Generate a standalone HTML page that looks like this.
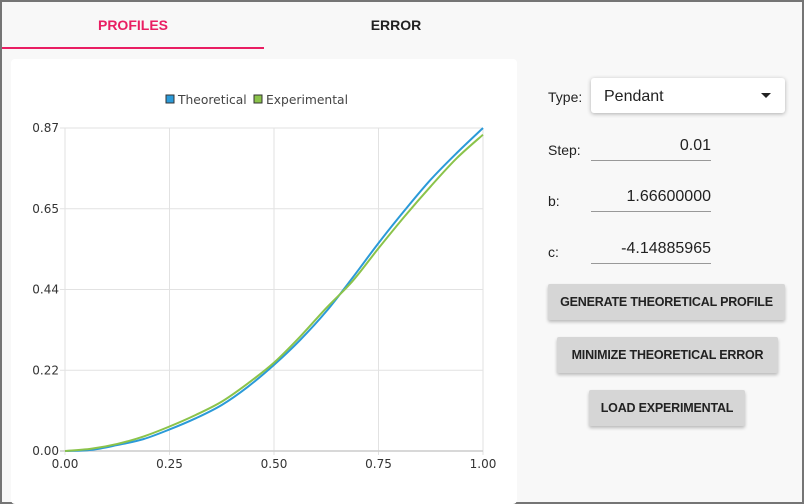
<!DOCTYPE html>
<html><head><meta charset="utf-8"><style>
*{box-sizing:border-box;margin:0;padding:0}
body{width:804px;height:504px;overflow:hidden;font-family:"Liberation Sans",sans-serif;background:#fff}
#frame{position:absolute;left:0;top:0;width:804px;height:504px;border:2px solid #757575;background:#f8f8f8}
.tab{position:absolute;top:2px;height:46px;line-height:46px;text-align:center;font-size:14px;font-weight:bold}
.lbl{position:absolute;font-size:14px;color:#222}
.inp{position:absolute;left:591px;width:120px;border-bottom:1px solid #999;text-align:right;font-size:16px;color:#222;height:26px;line-height:22px}
.btn{position:absolute;background:#d6d6d6;border-radius:2px;box-shadow:0 2px 3px rgba(0,0,0,.25);font-size:12.5px;font-weight:bold;color:#222;text-align:center;line-height:36px;height:36px;letter-spacing:-0.2px}
</style></head><body>
<div id="frame"></div>
<div class="tab" style="left:2px;width:262px;color:#e91e63">PROFILES</div>
<div style="position:absolute;left:2px;top:47px;width:262px;height:2px;background:#e91e63"></div>
<div class="tab" style="left:264px;width:264px;color:#222">ERROR</div>
<div style="position:absolute;left:11px;top:59px;width:506px;height:445px;background:#fff;border-radius:4px"></div>
<svg id="chart" width="804" height="504" style="position:absolute;left:0;top:0"></svg>

<div class="lbl" style="left:548px;top:89px">Type:</div>
<div style="position:absolute;left:591px;top:78px;width:194px;height:35px;background:#fff;border-radius:3px;box-shadow:0 1px 4px rgba(0,0,0,.3);font-size:16px;line-height:37px;padding-left:13px;color:#222">Pendant<span style="position:absolute;right:14px;top:15px;border-left:5px solid transparent;border-right:5px solid transparent;border-top:5px solid #222"></span></div>
<div class="lbl" style="left:548px;top:142px">Step:</div>
<div class="inp" style="top:135px">0.01</div>
<div class="lbl" style="left:548px;top:193px">b:</div>
<div class="inp" style="top:186px">1.66600000</div>
<div class="lbl" style="left:548px;top:244px">c:</div>
<div class="inp" style="top:238px">-4.14885965</div>
<div class="btn" style="left:548px;top:284px;width:237px">GENERATE THEORETICAL PROFILE</div>
<div class="btn" style="left:557px;top:337px;width:221px">MINIMIZE THEORETICAL ERROR</div>
<div class="btn" style="left:589px;top:390px;width:156px">LOAD EXPERIMENTAL</div>

<script>
const xVals=[0,0.0625,0.125,0.1875,0.25,0.3125,0.375,0.4375,0.5,0.5625,0.625,0.6875,0.75,0.8125,0.875,0.9375,1];
const theoretical=[0,0.003,0.016,0.032,0.058,0.088,0.124,0.173,0.232,0.299,0.376,0.466,0.560,0.648,0.731,0.803,0.87];
const experimental=[0,0.006,0.019,0.039,0.066,0.097,0.133,0.182,0.238,0.308,0.385,0.457,0.546,0.632,0.713,0.789,0.852];
const xTicks=[0,0.25,0.5,0.75,1];
const yTicks=[0,0.2175,0.435,0.6525,0.87];
const yTickLabels=["0.00","0.22","0.44","0.65","0.87"];
const seriesNames=["Theoretical","Experimental"];
const colors=["#2b9ad8","#8bc34a"];

const svg=document.getElementById('chart');
const NS='http://www.w3.org/2000/svg';
const X0=65,X1=483,Y0=451,Y1=128;
const sx=v=>X0+(v-0)/(1-0)*(X1-X0);
const sy=v=>Y0-(v/0.87)*(Y0-Y1);
function mk(t,a){const e=document.createElementNS(NS,t);for(const k in a)e.setAttribute(k,a[k]);svg.appendChild(e);return e;}
xTicks.forEach((t,i)=>{
  const l=mk('line',{x1:sx(t),x2:sx(t),y1:Y1,y2:Y0+4,stroke:'#e2e2e2','stroke-width':1});
  
  
  const tx=mk('text',{x:sx(t),y:Y0+17,'text-anchor':'middle','font-size':12,fill:'#333','font-family':'DejaVu Sans, sans-serif'});
  tx.textContent=t.toFixed(2);
  
  
});
yTicks.forEach((t,i)=>{
  const l=mk('line',{x1:X0-5,x2:X1,y1:sy(t),y2:sy(t),stroke:i==0?'#ccc':'#e2e2e2','stroke-width':i==0?1.5:1});
  
  
  const tx=mk('text',{x:X0-6,y:sy(t)+4,'text-anchor':'end','font-size':12,fill:'#333','font-family':'DejaVu Sans, sans-serif'});
  tx.textContent=yTickLabels[i];
  
  
});
function path(vals){
  const p=xVals.map((x,i)=>[sx(x),sy(vals[i])]);
  let d='M'+p[0][0]+','+p[0][1];
  for(let i=0;i<p.length-1;i++){
    const a=p[Math.max(i-1,0)],b=p[i],c=p[i+1],e=p[Math.min(i+2,p.length-1)];
    d+=' C'+(b[0]+(c[0]-a[0])/6)+','+(b[1]+(c[1]-a[1])/6)+' '+(c[0]-(e[0]-b[0])/6)+','+(c[1]-(e[1]-b[1])/6)+' '+c[0]+','+c[1];
  }
  return d;
}
const pt=mk('path',{d:path(theoretical),fill:'none',stroke:colors[0],'stroke-width':2});


const pe=mk('path',{d:path(experimental),fill:'none',stroke:colors[1],'stroke-width':2});


// legend
const lx=[166,254];
seriesNames.forEach((n,i)=>{
  const r=mk('rect',{x:lx[i],y:95,width:8,height:8,fill:colors[i],stroke:'#333','stroke-width':1});
  
  
  const t=mk('text',{x:lx[i]+12,y:104,'font-size':12.3,fill:'#444','font-family':'DejaVu Sans, sans-serif'});
  t.textContent=n;
  
  
});
</script>
</body></html>
